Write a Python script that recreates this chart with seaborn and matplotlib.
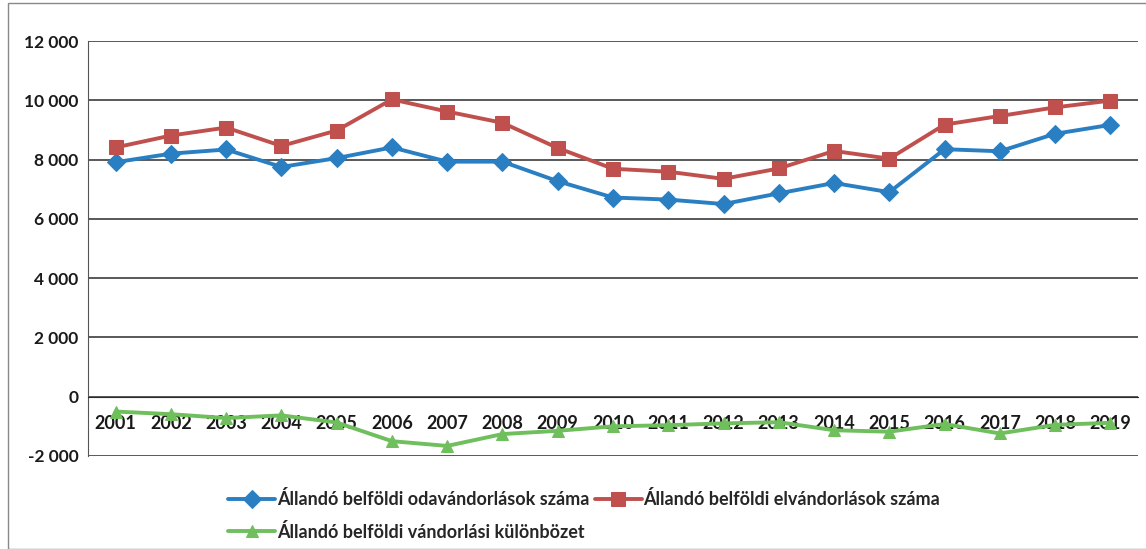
import matplotlib
matplotlib.use("Agg")
import matplotlib.pyplot as plt
import matplotlib.patches as mpatches
import matplotlib.ticker as mticker
import pandas as pd
import seaborn as sns

years = list(range(2001, 2020))
odavandorlas = [7910, 8200, 8340, 7750, 8050, 8410, 7930, 7930, 7270, 6720,
                6650, 6500, 6860, 7210, 6900, 8350, 8280, 8870, 9170]
elvandorlas = [8410, 8810, 9080, 8460, 8980, 10030, 9620, 9240, 8390, 7690,
               7590, 7350, 7700, 8290, 8030, 9180, 9470, 9760, 9990]
kulonbozet = [-500, -590, -720, -630, -870, -1500, -1660, -1260, -1150, -1000,
              -960, -900, -860, -1130, -1180, -920, -1240, -950, -880]

labels = ["Állandó belföldi odavándorlások száma",
          "Állandó belföldi elvándorlások száma",
          "Állandó belföldi vándorlási különbözet"]
colors = ["#2a7fc2", "#c0504d", "#6fbf5c"]
markers = ["D", "s", "^"]

df = pd.DataFrame({"ev": years, labels[0]: odavandorlas,
                   labels[1]: elvandorlas, labels[2]: kulonbozet})

sns.set_style("white")
plt.rcParams["font.family"] = ["Lato", "DejaVu Sans"]

fig = plt.figure(figsize=(11.46, 5.49), dpi=100)
ax = fig.add_axes([88 / 1146, 1 - 456 / 549, 1050 / 1146, 415 / 549])

handles = []
for lab, col, mk, ms in zip(labels, colors, markers, [9, 10, 9]):
    sns.lineplot(data=df, x="ev", y=lab, ax=ax, color=col, marker=mk,
                 markersize=ms, markeredgecolor=col, linewidth=2.8,
                 label=lab, legend=False, zorder=3)
    handles.append(ax.lines[-1])

ax.set_xlim(2000.5, 2019.5)
ax.set_ylim(-2000, 12000)
ax.set_yticks(range(-2000, 12001, 2000))
ax.yaxis.set_major_formatter(mticker.FuncFormatter(
    lambda v, p: f"{int(v):,}".replace(",", " ")))
ax.yaxis.grid(True, color="#2b2b2b", linewidth=1.1)
ax.set_axisbelow(True)

ax.spines["top"].set_visible(False)
ax.spines["right"].set_visible(False)
ax.spines["bottom"].set_position(("data", 0))
ax.spines["bottom"].set_color("#2b2b2b")
ax.spines["left"].set_color("#555555")
ax.spines["left"].set_linewidth(0.8)

ax.set_xticks(years)
ax.set_xticklabels([str(y) for y in years])
ax.set_xticks([y + 0.5 for y in range(2000, 2020)], minor=True)
ax.tick_params(axis="x", which="major", length=0, pad=13, labelsize=13,
               labelcolor="#1a1a1a")
ax.tick_params(axis="x", which="minor", length=5, direction="out",
               color="#333333")
ax.tick_params(axis="y", length=4, color="#333333", labelsize=12.5,
               labelcolor="#1a1a1a", pad=3)
for t in ax.get_xticklabels() + ax.get_yticklabels():
    t.set_fontweight("bold")
ax.set_xlabel("")
ax.set_ylabel("")

fig.legend([handles[0], handles[2], handles[1]],
           [labels[0], labels[2], labels[1]],
           ncol=2, loc="upper left", bbox_to_anchor=(212 / 1146, 1 - 474 / 549),
           frameon=False, handlelength=2.6, handletextpad=0.1,
           columnspacing=0.3, labelspacing=0.8,
           prop={"weight": "bold", "size": 13})

fig.patches.append(mpatches.Rectangle((8 / 1146, 0), 1.2, 1 - 3 / 549,
                                      transform=fig.transFigure, fill=False,
                                      edgecolor="#888888", linewidth=1))

fig.savefig("out.png", dpi=100)
